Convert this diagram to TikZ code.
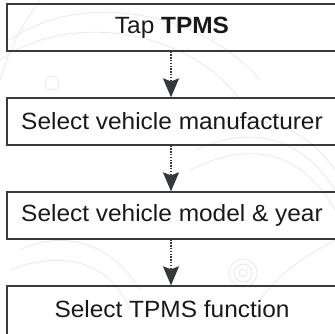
\documentclass[tikz,border=0pt]{standalone}
\usepackage{fontspec}
\setmainfont[FakeStretch=1.04]{Liberation Sans}
\usetikzlibrary{arrows.meta}
\definecolor{boxline}{HTML}{3A3A3A}
\definecolor{arrowgray}{HTML}{33383D}
\definecolor{marklines}{HTML}{E8E8E8}
\tikzset{
  stepbox/.style={draw=boxline, line width=1.3pt, minimum width=330pt, minimum height=47pt,
    inner sep=0pt, font=\fontsize{23.5}{27}\selectfont, text=black!90},
  flow/.style={draw=arrowgray, line width=1.5pt, dash pattern=on 1.4pt off 1.4pt,
    -{Stealth[length=19pt, width=16pt, inset=3pt, fill=arrowgray]}},
  faint/.style={draw=marklines, line width=0.8pt}
}
\begin{document}
\begin{tikzpicture}[x=1pt, y=-1pt]
            \useasboundingbox (0,0) rectangle (335,333);
            % faint wheel sketch behind the boxes
            \draw[faint] (52,83) circle (7);
            \draw[faint] (243,273) circle (4) (243,273) circle (9) (243,273) circle (14);
            \draw[faint] (-10,150) arc (180:300:230 and 240);
            \draw[faint] (10,40) .. controls (80,-10) and (200,10) .. (260,80);
            \draw[faint] (0,60) .. controls (70,10) and (190,30) .. (240,100);
            \draw[faint] (200,130) .. controls (250,110) and (300,120) .. (335,170);
            \draw[faint] (195,150) .. controls (250,125) and (300,135) .. (335,190);
            \draw[faint] (190,170) .. controls (250,140) and (300,150) .. (335,210);
            \draw[faint] (20,250) .. controls (60,230) and (110,240) .. (140,290);
            \draw[faint] (10,270) .. controls (60,250) and (110,260) .. (130,310);
            \draw[faint] (260,300) .. controls (290,260) and (320,250) .. (335,240);
            % steps
            \node[stepbox] (tap) at (172,27.5) {Tap \textbf{TPMS}};
            \node[stepbox] (maker) at (172,121.5) {Select vehicle manufacturer};
            \node[stepbox] (model) at (172,215.5) {Select vehicle model \& year};
            \node[stepbox, minimum height=52pt] (func) at (172,312) {};
            \node[font=\fontsize{23.5}{27}\selectfont, text=black!90] (functext) at (172,309.5) {Select TPMS function};
            \draw[flow] (tap.south -| 171,0) -- (maker.north -| 171,0);
            \draw[flow] (maker.south -| 171,0) -- (model.north -| 171,0);
            \draw[flow] (model.south -| 171,0) -- (func.north -| 171,0);
        \end{tikzpicture}
\end{document}
